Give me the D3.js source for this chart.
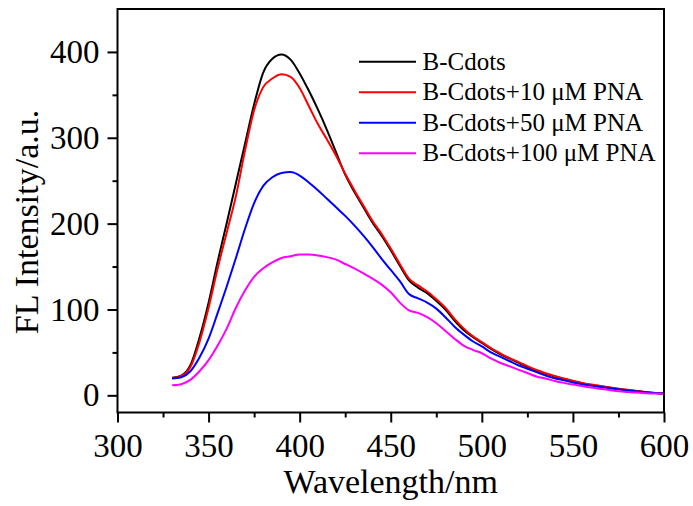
<!DOCTYPE html>
<html>
<head>
<meta charset="utf-8">
<script src="https://cdn.jsdelivr.net/npm/d3@7"></script>
<style>
  body { margin: 0; background: #fff; }
  svg { display: block; font-family: "Liberation Serif", "Times New Roman", serif; }
</style>
</head>
<body>
<svg id="chart" width="693" height="506"></svg>
<script>
// wavelengths (nm), one reading every 5 nm
const wavelengths = d3.range(330, 601, 5);

// series
const seriesNames = ['B-Cdots', 'B-Cdots+10 \u03bcM PNA', 'B-Cdots+50 \u03bcM PNA', 'B-Cdots+100 \u03bcM PNA'];
const seriesColors = ['#000000', '#ff0000', '#0000ff', '#ff00ff'];

const bCdots = [
  20.5, 23, 35, 67, 108, 156, 201, 247, 293, 339, 376, 392, 397, 391, 375, 355, 333, 309, 283, 257,
  237, 219, 201, 186, 169, 151, 134, 125.5, 119, 110, 100, 87, 76, 68, 61, 54, 48, 43, 38, 33,
  28.5, 25, 22, 19, 16.5, 14, 12, 10.5, 9, 7.5, 6.2, 5, 3.6, 2.6, 2
];
const pna10 = [
  20, 22.5, 33, 62, 102, 148, 190, 232, 285, 332, 359, 369, 374, 371, 358, 337, 316, 298, 279, 258,
  239, 221, 203, 188, 171, 153, 136, 128, 121, 112, 102, 89, 78, 69, 62, 55, 49, 43.5, 39, 34,
  29.5, 25.8, 22.5, 19.5, 17, 14.5, 12.5, 11, 9.2, 7.7, 6.4, 5.1, 3.8, 2.8, 2
];
const pna50 = [
  19.5, 21, 28, 44, 66, 96, 127, 160, 194, 224, 244, 254, 259, 260, 256, 248, 239, 229, 219, 209,
  198, 186, 173, 159, 146, 133, 118, 113, 108, 101, 91, 80, 71, 63, 57, 50, 45, 40, 35, 31,
  27, 23, 20, 17.5, 15, 13, 11.3, 9.8, 8.3, 7, 5.7, 4.6, 3.5, 2.6, 2
];
const pna100 = [
  11.6, 13, 18, 28, 41, 58, 78, 102, 122, 138, 148, 155, 160, 162, 164, 164, 163, 161, 158, 153,
  148, 142, 136, 129, 120, 108, 99, 96, 91, 84, 75, 66, 58, 53, 49, 43, 38, 34, 30, 26,
  22, 19.5, 16.8, 14.5, 12.5, 10.8, 9, 7.6, 6.2, 4.8, 3.9, 3.2, 2.5, 2, 1.8
];
const seriesValues = [bCdots, pna10, pna50, pna100];

// axis ticks
const xMajor = [300, 350, 400, 450, 500, 550, 600];
const xMinor = [325, 375, 425, 475, 525, 575];
const yMajor = [0, 100, 200, 300, 400];
const yMinor = [50, 150, 250, 350];

const svg = d3.select('#chart');
const margin = { left: 117.5, right: 664, top: 9, bottom: 412.5 };

const x = d3.scaleLinear().domain([300, 600]).range([margin.left, margin.right]);
const y = d3.scaleLinear().domain([-20, 450]).range([margin.bottom, margin.top]);

// curves
const line = d3.line()
  .x(d => x(d[0]))
  .y(d => y(d[1]))
  .curve(d3.curveMonotoneX);

seriesValues.forEach((vals, i) => {
  svg.append('path')
    .datum(wavelengths.map((w, j) => [w, vals[j]]))
    .attr('fill', 'none')
    .attr('stroke', seriesColors[i])
    .attr('stroke-width', 2)
    .attr('stroke-linejoin', 'round')
    .attr('d', line);
});

// frame
svg.append('rect')
  .attr('x', margin.left)
  .attr('y', margin.top)
  .attr('width', margin.right - margin.left)
  .attr('height', margin.bottom - margin.top)
  .attr('fill', 'none')
  .attr('stroke', '#000')
  .attr('stroke-width', 2);

// x axis, major + minor
const xAxisGroup = svg.append('g').attr('transform', `translate(0, ${margin.bottom})`);
xAxisGroup.call(d3.axisBottom(x).tickValues(xMajor).tickSize(10).tickPadding(11).tickFormat(d3.format('d')));
const xMinorGroup = svg.append('g').attr('transform', `translate(0, ${margin.bottom})`);
xMinorGroup.call(d3.axisBottom(x).tickValues(xMinor).tickSize(5).tickFormat(''));

// y axis, major + minor
const yAxisGroup = svg.append('g').attr('transform', `translate(${margin.left}, 0)`);
yAxisGroup.call(d3.axisLeft(y).tickValues(yMajor).tickSize(10).tickPadding(8).tickFormat(d3.format('d')));
const yMinorGroup = svg.append('g').attr('transform', `translate(${margin.left}, 0)`);
yMinorGroup.call(d3.axisLeft(y).tickValues(yMinor).tickSize(5).tickFormat(''));

svg.selectAll('.domain').remove();
svg.selectAll('.tick line').attr('stroke', '#000').attr('stroke-width', 2);
svg.selectAll('.tick text')
  .attr('fill', '#000')
  .style('font-family', '"Liberation Serif", "Times New Roman", serif')
  .style('font-size', '33px');

// axis titles
svg.append('text')
  .attr('x', (margin.left + margin.right) / 2)
  .attr('y', 493)
  .attr('text-anchor', 'middle')
  .style('font-size', '34px')
  .text('Wavelength/nm');

svg.append('text')
  .attr('transform', 'translate(37.5, 222) rotate(-90)')
  .attr('text-anchor', 'middle')
  .style('font-size', '34px')
  .text('FL Intensity/a.u.');

// legend
const legend = svg.append('g').attr('transform', 'translate(359, 61.7)');
seriesNames.forEach((name, i) => {
  const row = legend.append('g').attr('transform', `translate(0, ${i * 30.5})`);
  row.append('line')
    .attr('x1', 0).attr('x2', 57)
    .attr('stroke', seriesColors[i])
    .attr('stroke-width', 2);
  row.append('text')
    .attr('x', 63.5)
    .attr('dy', '0.33em')
    .style('font-size', '25px')
    .text(name);
});
</script>
</body>
</html>
